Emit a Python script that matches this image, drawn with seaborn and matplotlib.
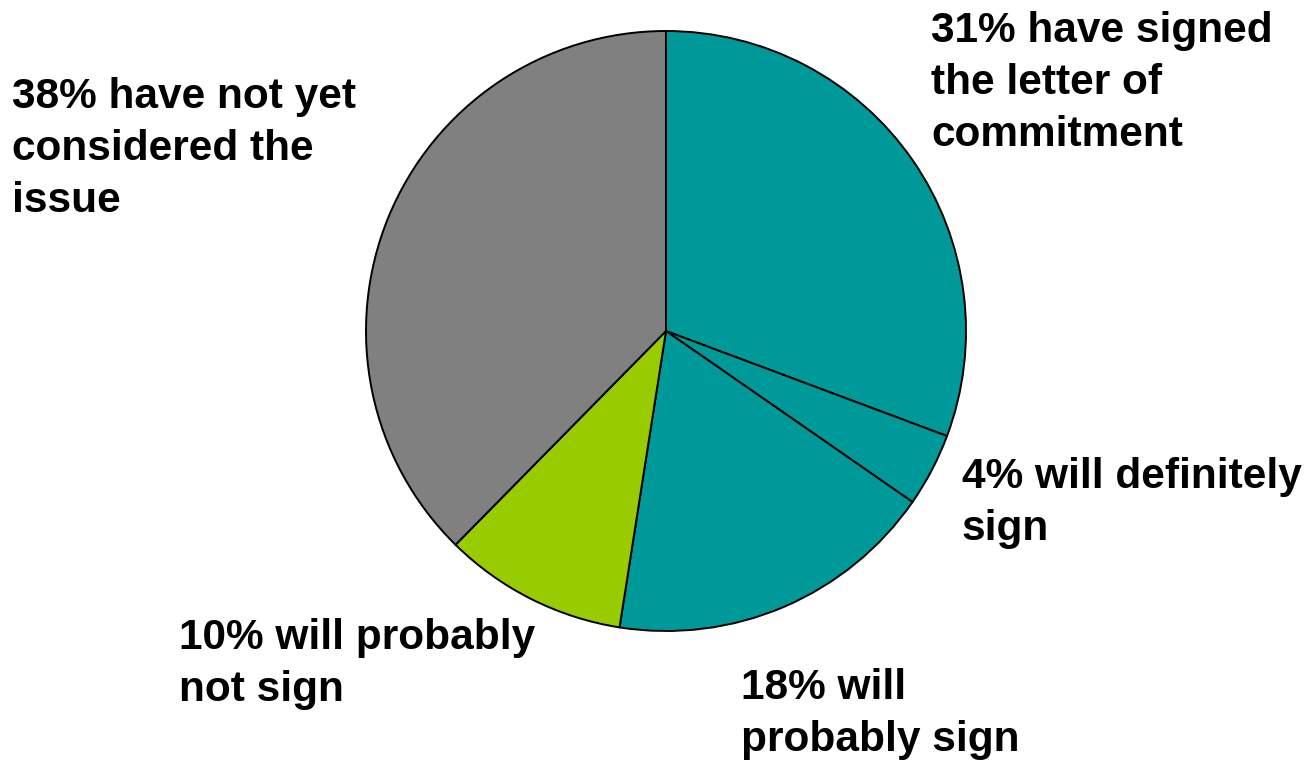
import matplotlib
matplotlib.use("Agg")
import matplotlib.pyplot as plt
import seaborn as sns

# Survey responses on the letter of commitment
categories = [
    "have signed the letter of commitment",
    "will definitely sign",
    "will probably sign",
    "will probably not sign",
    "have not yet considered the issue",
]
shares = [31, 4, 18, 10, 38]
labels = [
    "31% have signed\nthe letter of\ncommitment",
    "4% will definitely\nsign",
    "18% will\nprobably sign",
    "10% will probably\nnot sign",
    "38% have not yet\nconsidered the\nissue",
]
palette = sns.color_palette(["#009999", "#009999", "#009999", "#99CC00", "#808080"])

sns.set_theme(style="white")
plt.rcParams["font.family"] = ["Liberation Sans", "DejaVu Sans"]

W, H = 1312, 760
fig = plt.figure(figsize=(W / 100, H / 100), dpi=100)
fig.patch.set_facecolor("white")

cx, cy, r = 666, 331, 300
ax = fig.add_axes([(cx - r) / W, (H - cy - r) / H, 2 * r / W, 2 * r / H])
ax.pie(
    shares,
    colors=palette,
    startangle=90,
    counterclock=False,
    wedgeprops=dict(edgecolor="black", linewidth=1.4),
)
ax.set_xlim(-1, 1)
ax.set_ylim(-1, 1)
ax.set_aspect("equal")
ax.axis("off")

# label anchors: top-left corner of each text block, in pixels
label_pos = [(931, 11), (962, 457), (741, 668), (179, 618), (12, 77)]
for text, (x, y) in zip(labels, label_pos):
    fig.text(x / W, 1 - y / H, text, ha="left", va="top",
             fontsize=30.5, fontweight="bold", color="black", linespacing=1.39)

fig.savefig("out.png", dpi=100, facecolor="white")
